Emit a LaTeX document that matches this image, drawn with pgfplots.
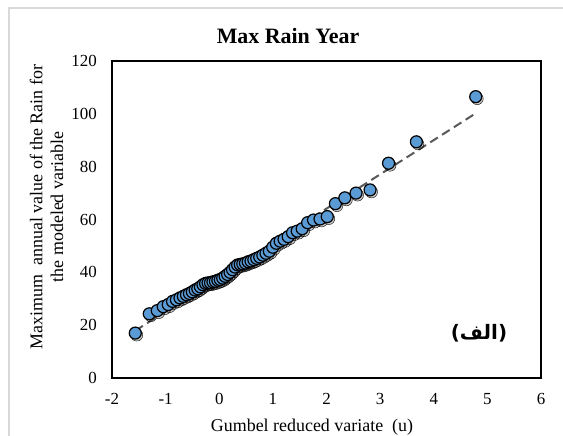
\documentclass[border=0pt]{standalone}
\usepackage{pgfplots}
\usepackage{pgfplotstable}
\pgfplotsset{compat=1.18}
\usepackage{fontspec}
\setmainfont{Liberation Serif}
\newfontfamily\arabicfont[Script=Arabic]{DejaVu Sans}
\TeXXeTstate=1
\definecolor{markblue}{RGB}{91,155,213}
\definecolor{framegray}{RGB}{217,217,217}
\definecolor{trendgray}{RGB}{89,89,89}

\pgfplotstableread{
u v
-1.566 17.0
-1.305 24.3
-1.156 25.5
-1.044 27.0
-0.952 27.8
-0.871 29.0
-0.799 29.6
-0.732 30.3
-0.670 30.9
-0.611 31.5
-0.556 32.0
-0.502 32.6
-0.450 33.3
-0.400 33.8
-0.351 34.5
-0.303 35.3
-0.255 35.8
-0.209 36.0
-0.163 36.1
-0.117 36.4
-0.071 36.6
-0.026 37.0
0.019 37.3
0.065 37.8
0.110 38.5
0.156 39.2
0.202 40.0
0.248 41.0
0.295 42.0
0.343 42.8
0.391 43.0
0.439 43.2
0.489 43.5
0.540 44.0
0.592 44.3
0.645 44.8
0.699 45.3
0.755 45.8
0.813 46.5
0.872 47.2
0.934 48.0
0.998 49.5
1.065 51.0
1.135 51.8
1.208 52.5
1.285 53.5
1.367 55.0
1.454 55.6
1.547 56.5
1.648 58.8
1.758 59.8
1.879 60.2
2.014 61.1
2.166 66.0
2.342 68.2
2.551 70.0
2.812 71.2
3.157 81.3
3.676 89.4
4.783 106.5
}\raindata

\begin{document}
\begin{tikzpicture}
\useasboundingbox (0bp,0bp) rectangle (563bp,436bp);
\draw[framegray, line width=1.5bp] (9bp,0bp) -- (9bp,428bp) -- (563bp,428bp);
\coordinate (axsw) at (112bp,58bp);
\begin{axis}[
  at={(axsw)}, anchor=south west,
  width=429bp, height=317bp, scale only axis,
  xmin=-2, xmax=6, ymin=0, ymax=120,
  xtick={-2,-1,0,1,2,3,4,5,6}, ytick={0,20,40,60,80,100,120},
  major tick length=0pt,
  axis line style={line width=1.3bp, black},
  /pgf/number format/assume math mode=true,
  tick label style={font=\fontsize{17}{17}\selectfont, inner sep=0pt},
  xticklabel style={anchor=center, yshift=-21bp},
  yticklabel style={anchor=east, xshift=-15bp},
  clip=false,
]
\addplot[only marks, mark=*, mark size=6bp,
  mark options={draw=none, fill=black, fill opacity=0.22, xshift=1.5bp, yshift=-2bp}]
  table[x=u, y=v] {\raindata};
\addplot[only marks, mark=*, mark size=6bp,
  mark options={draw=black, line width=1.2bp, fill=markblue}]
  table[x=u, y=v] {\raindata};
\addplot[trendgray, line width=2bp, dash pattern=on 9bp off 5bp, no marks]
  coordinates {(-1.566,17.9) (4.783,100.2)};
\end{axis}
\node[font=\fontsize{22}{22}\selectfont\bfseries] at (288bp,400bp) {Max Rain Year};
\node[font=\fontsize{18}{21}\selectfont] at (312bp,9bp) {Gumbel reduced variate\ \ (u)};
\node[rotate=90, align=center, font=\fontsize{18}{21}\selectfont] at (46.5bp,229bp)
  {Maximum\ \ annual value of the Rain for\\the modeled variable};
\node[font=\fontsize{20}{20}\selectfont] at (479bp,103bp) {\arabicfont\bfseries\beginR(الف)\endR};
\end{tikzpicture}
\end{document}
